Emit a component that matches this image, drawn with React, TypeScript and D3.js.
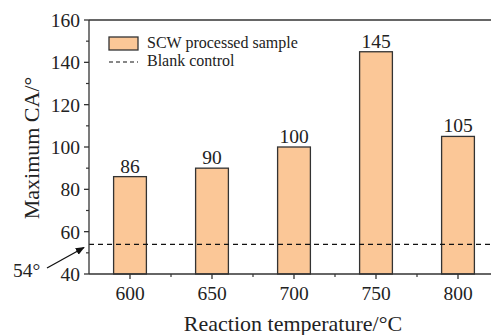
import React from "react";
import * as d3 from "d3";

const categories = [600, 650, 700, 750, 800];
const values = [86, 90, 100, 145, 105];
const blankValue = 54;
const yTicks = [40, 60, 80, 100, 120, 140, 160];
const yMinor = [50, 70, 90, 110, 130, 150];
const xMinor = [625, 675, 725, 775];

const W = 491, H = 335;
const left = 89, top = 20, bottom = 274;
const font = "'Liberation Serif', 'Times New Roman', serif";
const fill = "#FBC797";
const stroke = "#333";

export default function App() {
  const x = d3.scaleLinear().domain([575, 825]).range([left, left + 410]);
  const y = d3.scaleLinear().domain([40, 160]).range([bottom, top]);
  const bw = x(620) - x(600);
  return (
    <svg width={W} height={H} style={{ position: "absolute", left: 0, top: 0 }} fontFamily={font}>
      {categories.map((c, i) => (
        <g key={c}>
          <rect x={x(c) - bw / 2} y={y(values[i])} width={bw} height={y(40) - y(values[i])} fill={fill} stroke={stroke} strokeWidth={1.3} />
          <text x={x(c)} y={y(values[i]) - 4} textAnchor="middle" fontSize={19.5} fill="#222">{values[i]}</text>
        </g>
      ))}
      <line x1={left} x2={W} y1={y(blankValue)} y2={y(blankValue)} stroke="#111" strokeWidth={1.2} strokeDasharray="5,4" />
      <line x1={left} x2={left} y1={top} y2={bottom} stroke={stroke} strokeWidth={1.3} />
      <line x1={left} x2={W} y1={bottom} y2={bottom} stroke={stroke} strokeWidth={1.3} />
      <line x1={left} x2={W} y1={top} y2={top} stroke={stroke} strokeWidth={1.3} />
      {yTicks.map(t => (
        <g key={t}>
          <line x1={left - 5} x2={left} y1={y(t)} y2={y(t)} stroke={stroke} strokeWidth={1.3} />
          <text x={left - 9} y={y(t) + 7} textAnchor="end" fontSize={19.5} fill="#222">{t}</text>
        </g>
      ))}
      {yMinor.map(t => (
        <line key={t} x1={left - 3} x2={left} y1={y(t)} y2={y(t)} stroke={stroke} strokeWidth={1.2} />
      ))}
      {categories.map(t => (
        <g key={t}>
          <line x1={x(t)} x2={x(t)} y1={bottom} y2={bottom + 5} stroke={stroke} strokeWidth={1.3} />
          <text x={x(t)} y={bottom + 26} textAnchor="middle" fontSize={19.5} fill="#222">{t}</text>
        </g>
      ))}
      {xMinor.map(t => (
        <line key={t} x1={x(t)} x2={x(t)} y1={bottom} y2={bottom + 3} stroke={stroke} strokeWidth={1.2} />
      ))}
      <text x={293} y={331} textAnchor="middle" fontSize={22} fill="#222">Reaction temperature/°C</text>
      <text transform={`translate(39,${(top + bottom) / 2 + 1}) rotate(-90)`} textAnchor="middle" fontSize={22} fill="#222">Maximum CA/°</text>
      <rect x={109} y={37} width={29} height={13} fill={fill} stroke={stroke} strokeWidth={1.3} />
      <text x={147} y={48} fontSize={16} fill="#222">SCW processed sample</text>
      <line x1={109} x2={138} y1={62} y2={62} stroke="#111" strokeWidth={1.2} strokeDasharray="4,3" />
      <text x={147} y={66} fontSize={16} fill="#222">Blank control</text>
      <defs>
        <marker id="ah" viewBox="0 0 10 10" refX="9" refY="5" markerWidth="7" markerHeight="7" orient="auto">
          <path d="M0,1 L10,5 L0,9 Z" fill="#111" />
        </marker>
      </defs>
      <line x1={47} y1={268} x2={84} y2={247.5} stroke="#111" strokeWidth={1.3} markerEnd="url(#ah)" />
      <text x={13} y={277} fontSize={19.5} fill="#222">54°</text>
    </svg>
  );
}
